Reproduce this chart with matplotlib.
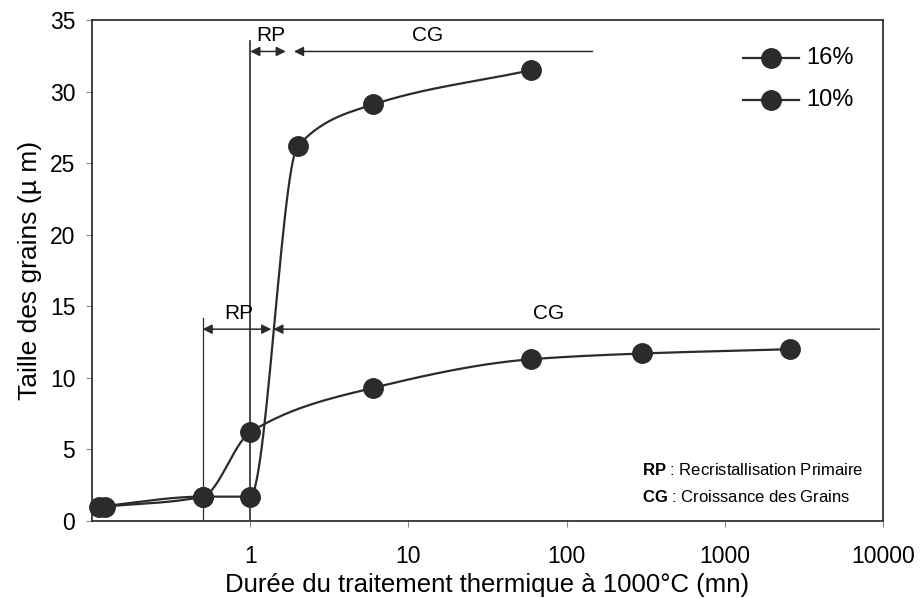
import numpy as np
import matplotlib
matplotlib.use('Agg')
import matplotlib.pyplot as plt

plt.rcParams['font.family'] = ['Liberation Sans', 'DejaVu Sans']
plt.rcParams['mathtext.fontset'] = 'custom'
plt.rcParams['mathtext.rm'] = 'Liberation Sans'
plt.rcParams['mathtext.bf'] = 'Liberation Sans:bold'

# data
t16 = [0.11, 0.5, 1, 2, 6, 60]
d16 = [1.0, 1.7, 1.7, 26.2, 29.1, 31.5]
t10 = [0.12, 0.5, 1, 6, 60, 300, 2600]
d10 = [1.0, 1.7, 6.2, 9.3, 11.3, 11.7, 12.0]
xticks = [1, 10, 100, 1000, 10000]
yticks = [0, 5, 10, 15, 20, 25, 30, 35]

col = '#2b2b2b'

def smooth(x, y, n=30):
    # monotone cubic (pchip) through the points in log-x space
    lx = np.log10(x); y = np.asarray(y, float)
    h = np.diff(lx); dl = np.diff(y) / h
    d = np.zeros(len(y))
    d[0] = dl[0]; d[-1] = dl[-1]
    for k in range(1, len(y) - 1):
        if dl[k-1] * dl[k] > 0:
            w1 = 2*h[k] + h[k-1]; w2 = h[k] + 2*h[k-1]
            d[k] = (w1 + w2) / (w1/dl[k-1] + w2/dl[k])
    xs, ys = [], []
    for k in range(len(h)):
        s = np.linspace(0, 1, n)
        h00 = 2*s**3 - 3*s**2 + 1; h10 = s**3 - 2*s**2 + s
        h01 = -2*s**3 + 3*s**2; h11 = s**3 - s**2
        xs.append(lx[k] + s*h[k])
        ys.append(h00*y[k] + h10*h[k]*d[k] + h01*y[k+1] + h11*h[k]*d[k+1])
    return 10**np.concatenate(xs), np.concatenate(ys)

fig = plt.figure(figsize=(9.21, 5.98), dpi=100)
ax = fig.add_axes([0.0999, 0.1288, 0.8588, 0.8378])

for t, d in [(t16, d16), (t10, d10)]:
    sx, sy = smooth(t, d)
    ax.plot(sx, sy, '-', color=col, lw=1.6, zorder=2)
    ax.plot(t, d, 'o', color=col, ms=14, zorder=3, clip_on=False)

# legend drawn by hand
for yy, lab in [(0.924, '16%'), (0.840, '10%')]:
    ax.plot([0.823, 0.894], [yy, yy], '-', color=col, lw=1.6, transform=ax.transAxes)
    ax.plot([0.858], [yy], 'o', color=col, ms=14, transform=ax.transAxes)
    ax.text(0.903, yy, lab, transform=ax.transAxes, fontsize=17, va='center', ha='left')

# recrystallisation / growth markers
ax.plot([1, 1], [0, 33.5], '-', color=col, lw=1.2, zorder=1)
ax.plot([0.5, 0.5], [0, 14.2], '-', color=col, lw=0.9, zorder=1)

aprops = dict(arrowstyle='<|-|>', color=col, lw=1.1, mutation_scale=14, shrinkA=0, shrinkB=0)
lprops = dict(arrowstyle='-|>', color=col, lw=1.1, mutation_scale=14, shrinkA=0, shrinkB=0)
ax.annotate('', xy=(1, 32.8), xytext=(1.68, 32.8), arrowprops=aprops)
ax.annotate('', xy=(1.89, 32.8), xytext=(146, 32.8), arrowprops=lprops)
ax.annotate('', xy=(0.5, 13.4), xytext=(1.36, 13.4), arrowprops=aprops)
ax.annotate('', xy=(1.4, 13.4), xytext=(9500, 13.4), arrowprops=lprops)
ax.text(1.35, 33.9, 'RP', fontsize=15, ha='center', va='center')
ax.text(13.2, 33.9, 'CG', fontsize=15, ha='center', va='center')
ax.text(0.85, 14.5, 'RP', fontsize=15, ha='center', va='center')
ax.text(77, 14.5, 'CG', fontsize=15, ha='center', va='center')

ax.text(0.695, 0.102, r'$\mathbf{RP}$ : Recristallisation Primaire', transform=ax.transAxes,
        fontsize=12, ha='left', va='center')
ax.text(0.695, 0.048, r'$\mathbf{CG}$ : Croissance des Grains', transform=ax.transAxes,
        fontsize=12, ha='left', va='center')

ax.set_xscale('log')
ax.set_xlim(0.1, 10000)
ax.set_ylim(0, 35)
ax.set_xticks(xticks)
ax.set_xticklabels([str(v) for v in xticks])
ax.minorticks_off()
ax.set_yticks(yticks)
ax.tick_params(axis='both', labelsize=16.5, color='#888888', length=4, width=0.8)
ax.tick_params(axis='x', pad=13)
ax.tick_params(axis='y', pad=8)
for s in ax.spines.values():
    s.set_color('#333333'); s.set_linewidth(1.3)

ax.set_xlabel('Durée du traitement thermique à 1000°C (mn)', fontsize=18.5, labelpad=4)
ax.set_ylabel('Taille des grains (µ m)', fontsize=19, labelpad=6)

fig.savefig('out.png', dpi=100)
